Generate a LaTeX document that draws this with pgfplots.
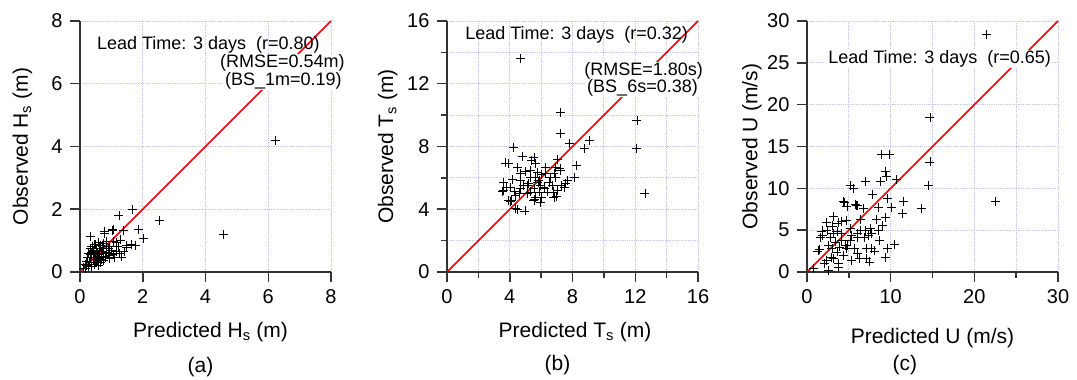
\documentclass[border=0pt]{standalone}
\usepackage{pgfplots}
\pgfplotsset{compat=1.18}
\usepackage{fontspec}
\setmainfont{Liberation Sans}
\definecolor{axisgray}{HTML}{333333}
\definecolor{gridblue}{HTML}{C4C4F6}
\newcommand{\mytkfont}{\fontsize{20}{22}\selectfont}
\newcommand{\mylabfont}{\fontsize{21}{23}\selectfont}
\newcommand{\myannfont}{\fontsize{18}{20}\selectfont}
\pgfplotsset{
  panel/.style={
    scale only axis, width=261pt, height=261pt,
    axis lines*=left, axis line style={draw=none},
    xtick pos=bottom, ytick pos=left,
    major tick length=0pt, minor tick length=0pt, tick style={draw=none},
    tick label style={font=\mytkfont},
    xticklabel style={yshift=-4pt},
    yticklabel style={xshift=-4pt},
    /pgf/number format/assume math mode=true,
    clip=false,
  },
  obs/.style={only marks, mark=+, mark size=4.5pt, black, mark options={line width=0.8pt}},
  diag/.style={color=red!95!black, line width=1.6pt, mark=none},
  gv/.style={ycomb, mark=none, densely dotted, color=gridblue, line width=0.8pt, forget plot},
  gh/.style={xcomb, mark=none, densely dotted, color=gridblue, line width=0.8pt, forget plot},
  tv/.style={ycomb, mark=none, solid, color=axisgray, line width=1.5pt, forget plot},
  th/.style={xcomb, mark=none, solid, color=axisgray, line width=1.5pt, forget plot},
  al/.style={mark=none, solid, color=axisgray, line width=1.7pt, forget plot},
}
\begin{document}
\begin{tikzpicture}
\path[draw=none] (0,0) rectangle (1077pt,378pt);
% ---------------- (a)
\begin{axis}[panel, at={(70pt,96pt)},
  xmin=-0.3187,xmax=8,ymin=-0.3187,ymax=8, xtick={0,2,...,8}, ytick={0,2,...,8}]
\addplot[gv] coordinates {(2,8)(4,8)(6,8)(8,8)};
\addplot[gh] coordinates {(8,2)(8,4)(8,6)(8,8)};
\addplot[obs] coordinates {
(6.22,4.18)(4.58,1.19)(2.53,1.64)(1.66,1.98)(1.24,1.80)(1.87,1.36)(2.03,1.06)
(1.39,1.32)(1.05,1.37)(0.77,1.30)(0.34,1.14)(1.77,0.85)(1.48,0.85)(1.26,0.58)
(1.32,0.48)(0.95,0.53)(0.63,0.48)(1.03,1.32)(0.79,1.24)(1.07,0.98)(1.63,0.87)
(1.48,0.79)(1.16,0.66)(1.05,0.55)(0.84,0.61)(0.68,0.66)(0.63,0.50)(0.53,0.76)
(0.47,0.87)(0.74,0.92)(0.90,0.76)(0.37,0.61)(0.32,0.45)(0.21,0.34)(0.16,0.23)
(0.11,0.13)(0.26,0.18)(0.42,0.39)(0.58,0.42)(0.74,0.36)(0.95,0.42)(0.47,0.55)
(0.61,0.68)(0.42,0.66)(0.74,0.50)(0.32,0.74)(0.53,0.29)(0.37,0.18)(0.65,0.85)
(0.84,0.98)(1.00,0.68)(1.21,0.82)(0.95,0.82)(0.55,0.60)(0.45,0.48)(0.30,0.30)
(0.50,0.40)(0.60,0.55)(0.70,0.75)(0.40,0.70)(0.35,0.55)(0.25,0.45)(0.55,0.35)
(0.80,0.45)(0.85,0.80)(0.65,0.30)(0.45,0.25)(0.20,0.20)(1.10,0.45)(1.40,0.65)
(0.60,0.95)(0.50,0.88)(0.38,0.82)(0.75,0.58)(0.90,0.60)(0.28,0.58)(0.18,0.10)
(0.58,0.22)(0.68,0.40)(1.15,0.95)(1.30,1.02)
};
\addplot[diag] coordinates {(0,0)(8,8)};
\addplot[al] coordinates {(0,0)(8,0)};
\addplot[al] coordinates {(0,0)(0,8)};
\addplot[tv] coordinates {(0,-0.3187)(2,-0.3187)(4,-0.3187)(6,-0.3187)(8,-0.3187)};
\addplot[th] coordinates {(-0.3187,0)(-0.3187,2)(-0.3187,4)(-0.3187,6)(-0.3187,8)};
\node[anchor=west, inner sep=0pt, font=\myannfont] at (axis cs:0.536,7.232) {Lead Time: 3 days\ \ (r=0.80)};
\node[anchor=east, fill=white, inner sep=1pt, font=\myannfont] at (axis cs:8.472,6.664) {(RMSE=0.54m)};
\node[anchor=east, fill=white, inner sep=1pt, font=\myannfont] at (axis cs:8.376,6.088) {(BS\_1m=0.19)};
\node[rotate=90, font=\mylabfont] at (axis cs:-1.832,4) {Observed H\textsubscript{s} (m)};
\node[font=\mylabfont] at (axis cs:4.16,-1.912) {Predicted H\textsubscript{s} (m)};
\node[font=\mylabfont] at (axis cs:3.84,-3.024) {(a)};
\end{axis}
% ---------------- (b)
\begin{axis}[panel, at={(437pt,96pt)},
  xmin=-0.6375,xmax=16,ymin=-0.6375,ymax=16, xtick={0,4,...,16}, ytick={0,4,...,16}]
\addplot[gv] coordinates {(2,16)(4,16)(6,16)(8,16)(10,16)(12,16)(14,16)(16,16)};
\addplot[gh] coordinates {(16,2)(16,4)(16,6)(16,8)(16,10)(16,12)(16,14)(16,16)};
\addplot[obs] coordinates {
(4.69,13.59)(7.21,10.15)(7.21,8.81)(12.11,9.66)(12.05,7.86)(12.62,4.99)(9.06,8.39)
(8.78,7.86)(7.83,8.17)(4.22,7.96)(4.80,7.37)(5.54,7.32)(7.04,7.16)(3.94,6.94)
(4.48,6.69)(5.65,6.90)(8.27,6.79)(7.21,6.48)(6.29,6.26)(5.76,6.37)(8.10,6.05)
(6.82,6.26)(3.62,5.73)(4.69,5.84)(5.33,6.05)(5.86,5.84)(6.50,5.73)(7.57,5.63)
(3.52,5.16)(4.05,5.41)(4.90,5.52)(5.54,5.31)(6.18,5.41)(6.72,5.52)(7.04,5.20)
(4.37,4.88)(5.12,4.99)(5.65,4.78)(6.40,5.10)(6.82,4.78)(3.94,4.56)(4.05,4.50)
(5.54,4.56)(5.93,4.42)(4.37,4.03)(4.48,3.97)(4.97,3.89)(5.97,5.52)(5.22,5.67)
(4.69,5.31)(4.31,5.16)(5.86,5.10)(6.61,6.05)(7.46,5.41)(7.68,5.84)(6.29,6.69)
(5.65,6.05)(5.12,5.52)(3.62,5.20)(4.69,6.26)(6.01,4.78)(6.76,5.10)(6.93,6.69)
(5.33,5.10)(5.60,4.60)(5.00,6.40)(5.40,7.10)(6.00,6.20)(4.20,5.90)(3.80,5.40)
(4.10,4.55)(5.80,5.70)(6.20,5.30)(7.20,6.60)(6.90,6.00)(4.60,5.00)(5.30,6.50)
(7.00,4.80)(7.30,5.50)(3.75,6.95)
};
\addplot[diag] coordinates {(0,0)(16,16)};
\addplot[al] coordinates {(0,0)(16,0)};
\addplot[al] coordinates {(0,0)(0,16)};
\addplot[tv] coordinates {(0,-0.6375)(4,-0.6375)(8,-0.6375)(12,-0.6375)(16,-0.6375)};
\addplot[tv] coordinates {(2,-0.3825)(6,-0.3825)(10,-0.3825)(14,-0.3825)};
\addplot[th] coordinates {(-0.6375,0)(-0.6375,4)(-0.6375,8)(-0.6375,12)(-0.6375,16)};
\addplot[th] coordinates {(-0.3825,2)(-0.3825,6)(-0.3825,10)(-0.3825,14)};
\node[anchor=west, inner sep=0pt, font=\myannfont] at (axis cs:1.152,15.10) {Lead Time: 3 days\ \ (r=0.32)};
\node[anchor=east, fill=white, inner sep=1pt, font=\myannfont] at (axis cs:16.384,12.8) {(RMSE=1.80s)};
\node[anchor=east, fill=white, inner sep=1pt, font=\myannfont] at (axis cs:16.064,11.728) {(BS\_6s=0.38)};
\node[rotate=90, font=\mylabfont] at (axis cs:-3.776,8) {Observed T\textsubscript{s} (m)};
\node[font=\mylabfont] at (axis cs:8.16,-3.824) {Predicted T\textsubscript{s} (m)};
\node[font=\mylabfont] at (axis cs:7.04,-5.92) {(b)};
\end{axis}
% ---------------- (c)
\begin{axis}[panel, at={(797pt,96pt)},
  xmin=-1.195,xmax=30,ymin=-1.195,ymax=30, xtick={0,10,20,30}, ytick={0,5,...,30}]
\addplot[gv] coordinates {(5,30)(10,30)(15,30)(20,30)(25,30)(30,30)};
\addplot[gh] coordinates {(30,5)(30,10)(30,15)(30,20)(30,25)(30,30)};
\addplot[obs] coordinates {
(21.45,28.37)(22.57,8.45)(14.70,18.45)(14.70,13.15)(14.50,10.36)(13.71,7.57)
(8.94,14.06)(9.85,14.02)(9.34,12.07)(9.54,11.47)(10.73,11.08)(6.95,10.84)
(8.74,10.84)(5.17,10.36)(5.56,9.96)(7.83,9.28)(9.61,8.76)(11.52,8.45)(11.40,6.97)
(10.13,7.69)(8.54,7.69)(6.75,7.61)(5.76,8.09)(4.45,8.29)(6.04,7.97)(9.34,6.57)
(8.34,6.29)(6.44,6.29)(9.02,5.58)(7.55,5.18)(3.18,6.65)(2.31,5.90)(3.70,5.86)
(4.69,6.18)(5.24,5.18)(6.95,4.98)(7.75,4.58)(8.54,4.98)(1.79,4.90)(1.59,4.10)
(3.58,4.86)(4.17,4.58)(6.04,4.18)(6.83,4.10)(7.35,4.38)(8.66,3.78)(3.85,2.99)
(4.77,3.19)(4.69,2.79)(2.58,3.19)(2.98,2.79)(1.51,2.67)(1.31,2.51)(7.07,2.79)
(7.75,2.79)(8.03,2.51)(10.41,3.31)(9.61,2.79)(9.34,1.71)(6.04,2.19)(7.15,1.59)
(7.47,1.20)(6.28,1.59)(5.32,1.39)(4.37,1.99)(2.90,1.79)(2.31,1.39)(2.07,1.00)
(2.58,0.20)(3.77,1.00)(3.77,0.60)(0.79,0.40)(3.18,1.59)(3.58,2.39)(4.17,3.78)
(5.17,3.78)(5.36,4.38)(6.36,4.98)(2.78,4.18)(3.38,3.59)(4.57,3.19)(5.64,2.79)
(4.77,7.85)(3.10,4.58)(2.38,4.98)(6.04,4.58)(1.80,4.40)(4.40,8.40)(5.90,8.00)
(4.10,6.00)(3.00,5.50)
};
\addplot[diag] coordinates {(0,0)(30,30)};
\addplot[al] coordinates {(0,0)(30,0)};
\addplot[al] coordinates {(0,0)(0,30)};
\addplot[tv] coordinates {(0,-1.195)(10,-1.195)(20,-1.195)(30,-1.195)};
\addplot[tv] coordinates {(5,-0.717)(15,-0.717)(25,-0.717)};
\addplot[th] coordinates {(-1.195,0)(-1.195,5)(-1.195,10)(-1.195,15)(-1.195,20)(-1.195,25)(-1.195,30)};
\node[anchor=west, fill=white, inner sep=1pt, font=\myannfont] at (axis cs:2.4,25.47) {Lead Time: 3 days\ \ (r=0.65)};
\node[rotate=90, font=\mylabfont] at (axis cs:-6.57,15) {Observed U (m/s)};
\node[font=\mylabfont] at (axis cs:15,-7.89) {Predicted U (m/s)};
\node[font=\mylabfont] at (axis cs:11.7,-11.1) {(c)};
\end{axis}
\end{tikzpicture}
\end{document}
